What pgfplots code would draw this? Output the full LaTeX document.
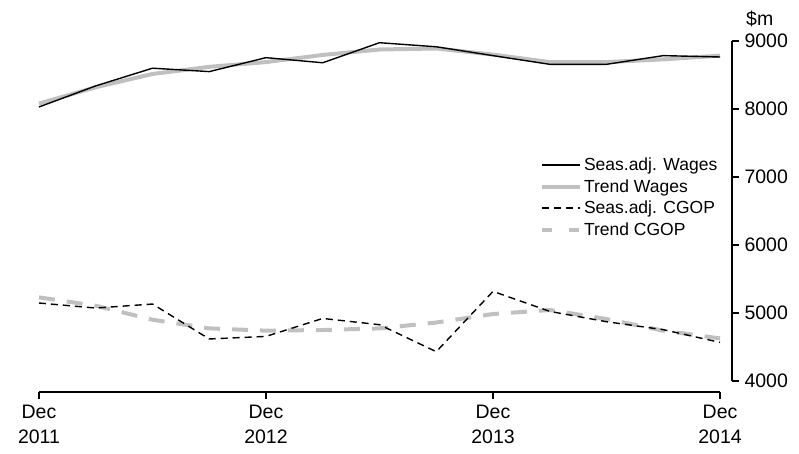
\documentclass[border=0pt]{standalone}
\usepackage{fontspec}
\setmainfont{Liberation Sans}
\usepackage{pgfplots}
\pgfplotsset{compat=1.18}
\definecolor{trendgray}{RGB}{192,192,192}
\begin{document}
\begin{tikzpicture}[x=1pt,y=1pt,font=\fontsize{19.5pt}{23pt}\selectfont]
\path[use as bounding box] (0,0) rectangle (799,453);
\begin{axis}[
  at={(39pt,72pt)}, anchor=south west,
  scale only axis, width=681pt, height=340pt,
  xmin=0, xmax=12, ymin=4000, ymax=9000,
  axis x line*=bottom, axis y line*=right,
  axis x line shift=11pt, axis y line shift=12pt,
  tick align=outside, major tick length=7pt,
  axis line style={line width=1.2pt},
  tick style={line width=1.2pt, black},
  xtick={0,4,8,12},
  xticklabels={{Dec\\2011},{Dec\\2012},{Dec\\2013},{Dec\\2014}},
  xticklabel style={align=center, yshift=-3pt, font=\fontsize{19.5pt}{25pt}\selectfont},
  ytick={4000,5000,6000,7000,8000,9000},
  yticklabel style={anchor=west, xshift=2pt, font=\fontsize{19.5pt}{23pt}\selectfont},
  /pgf/number format/assume math mode=true,
  /pgf/number format/1000 sep={},
  clip=false,
  legend style={draw=none, fill=none, at={(0.731,0.669)}, anchor=north west,
    font=\fontsize{17.5pt}{21pt}\selectfont, row sep=3.5pt,
    nodes={inner sep=2pt}},
  legend cell align=left,
  legend image code/.code={\draw[#1] (0pt,0pt) -- (38pt,0pt);},
]
\addplot[trendgray, line width=4pt, forget plot] coordinates {
(0,8080) (1,8320) (2,8515) (3,8620) (4,8690) (5,8795) (6,8875) (7,8890) (8,8800) (9,8690) (10,8690) (11,8730) (12,8785)};
\addplot[black, line width=1.4pt, forget plot] coordinates {
(0,8030) (1,8340) (2,8600) (3,8550) (4,8755) (5,8680) (6,8975) (7,8915) (8,8785) (9,8657) (10,8657) (11,8785) (12,8765)};
\addplot[trendgray, line width=4pt, dash pattern=on 16pt off 12pt, forget plot] coordinates {
(0,5230) (1,5107) (2,4901) (3,4774) (4,4740) (5,4750) (6,4774) (7,4860) (8,4985) (9,5044) (10,4912) (11,4740) (12,4627)};
\addplot[black, line width=1.4pt, dash pattern=on 7pt off 5pt, forget plot] coordinates {
(0,5147) (1,5073) (2,5132) (3,4618) (4,4656) (5,4920) (6,4828) (7,4431) (8,5318) (9,5024) (10,4872) (11,4755) (12,4568)};
\addlegendimage{black, line width=1.4pt}
\addlegendentry{Seas.adj. Wages}
\addlegendimage{trendgray, line width=4pt}
\addlegendentry{Trend Wages}
\addlegendimage{black, line width=1.4pt, dash pattern=on 7pt off 5pt}
\addlegendentry{Seas.adj. CGOP}
\addlegendimage{trendgray, line width=4pt, dash pattern=on 10pt off 17pt}
\addlegendentry{Trend CGOP}
\node[anchor=south west, inner sep=0pt] at (rel axis cs:1,1) [xshift=26pt, yshift=14pt] {\$m};
\end{axis}
\end{tikzpicture}
\end{document}
